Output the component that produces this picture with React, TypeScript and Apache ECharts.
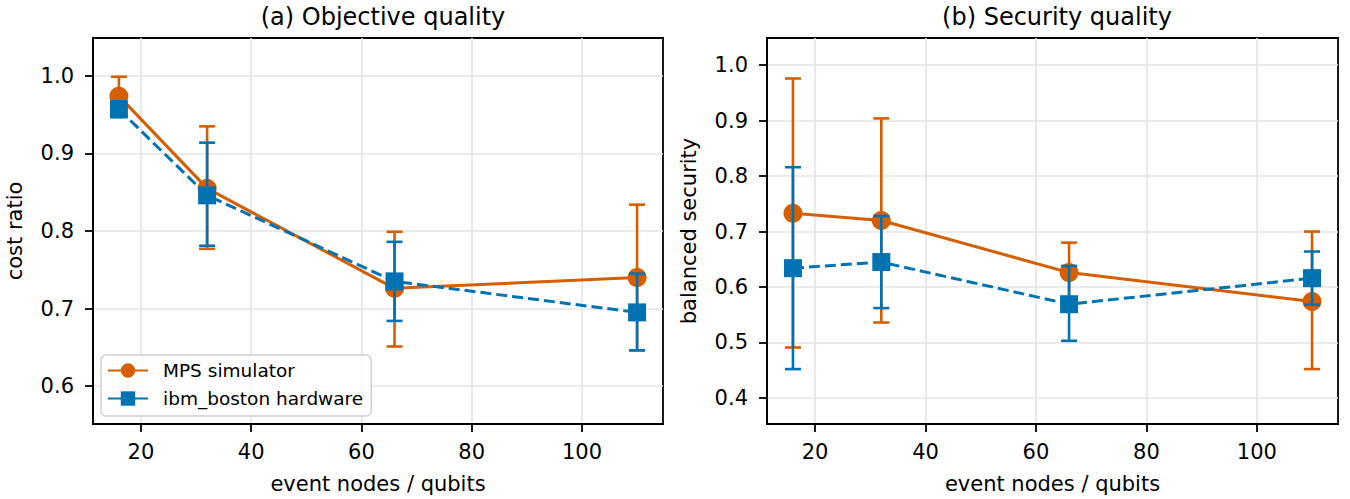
import React, { useEffect, useRef } from 'react';
import * as echarts from 'echarts';

const xValues = [16, 32, 66, 110];

const costMps = [0.974, 0.855, 0.726, 0.740];
const costMpsLow = [0.949, 0.777, 0.651, 0.646];
const costMpsHigh = [0.999, 0.935, 0.799, 0.834];
const costIbm = [0.957, 0.846, 0.735, 0.695];
const costIbmLow = [0.947, 0.781, 0.684, 0.646];
const costIbmHigh = [0.967, 0.914, 0.786, 0.745];

const secMps = [0.733, 0.720, 0.626, 0.574];
const secMpsLow = [0.491, 0.536, 0.572, 0.452];
const secMpsHigh = [0.976, 0.904, 0.680, 0.700];
const secIbm = [0.634, 0.645, 0.569, 0.616];
const secIbmLow = [0.452, 0.562, 0.503, 0.568];
const secIbmHigh = [0.816, 0.728, 0.638, 0.664];

const xTicks = [20, 40, 60, 80, 100];
const costTicks = [0.6, 0.7, 0.8, 0.9, 1.0];
const secTicks = [0.4, 0.5, 0.6, 0.7, 0.8, 0.9, 1.0];

const titles = ['(a) Objective quality', '(b) Security quality'];
const xName = 'event nodes / qubits';
const yNames = ['cost ratio', 'balanced security'];
const seriesNames = ['MPS simulator', 'ibm_boston hardware'];

const ORANGE = '#d55e00';
const BLUE = '#0072b2';
const FONT = 'DejaVu Sans';
const TICK_FS = 21;
const NAME_FS = 21;

const errRender = (color: string) => (params: any, api: any) => {
  const x = api.value(0);
  const lo = api.coord([x, api.value(1)]);
  const hi = api.coord([x, api.value(2)]);
  const cap = 8;
  const style = { stroke: color, lineWidth: 2.6, fill: null };
  return {
    type: 'group',
    children: [
      { type: 'line', shape: { x1: lo[0], y1: lo[1], x2: hi[0], y2: hi[1] }, style },
      { type: 'line', shape: { x1: lo[0] - cap, y1: lo[1], x2: lo[0] + cap, y2: lo[1] }, style },
      { type: 'line', shape: { x1: hi[0] - cap, y1: hi[1], x2: hi[0] + cap, y2: hi[1] }, style },
    ],
  };
};

function makeXAxis(gridIndex: number) {
  return {
    type: 'value',
    gridIndex,
    min: 11.3,
    max: 114.7,
    splitNumber: 5,
    name: xName,
    nameLocation: 'middle',
    nameGap: 49,
    nameTextStyle: { fontFamily: FONT, fontSize: NAME_FS, color: '#000' },
    axisLine: { show: true, lineStyle: { color: '#000', width: 1.8 } },
    axisTick: { show: true, length: 8, customValues: xTicks, lineStyle: { color: '#000', width: 1.8 } },
    axisLabel: {
      customValues: xTicks,
      margin: 17,
      fontFamily: FONT,
      fontSize: TICK_FS,
      color: '#000',
    },
    splitLine: { show: true, customValues: xTicks, lineStyle: { color: '#e4e4e4', width: 1.6 } },
  };
}

function makeYAxis(gridIndex: number, min: number, max: number, ticks: number[], name: string, splitNumber: number) {
  return {
    type: 'value',
    gridIndex,
    min,
    max,
    splitNumber,
    name,
    nameLocation: 'middle',
    nameGap: 68,
    nameTextStyle: { fontFamily: FONT, fontSize: NAME_FS, color: '#000' },
    axisLine: { show: true, lineStyle: { color: '#000', width: 1.8 } },
    axisTick: { show: true, length: 8, customValues: ticks, lineStyle: { color: '#000', width: 1.8 } },
    axisLabel: {
      customValues: ticks,
      margin: 19,
      fontFamily: FONT,
      fontSize: TICK_FS,
      color: '#000',
      formatter: (v: number) => v.toFixed(1),
    },
    splitLine: { show: true, customValues: ticks, lineStyle: { color: '#e4e4e4', width: 1.6 } },
  };
}

function pairs(ys: number[]) {
  return xValues.map((x, i) => [x, ys[i]]);
}
function errs(lo: number[], hi: number[]) {
  return xValues.map((x, i) => [x, lo[i], hi[i]]);
}

function lineSeries(name: string, idx: number, ys: number[], color: string, dashed: boolean, z: number) {
  return {
    type: 'line',
    name,
    xAxisIndex: idx,
    yAxisIndex: idx,
    data: pairs(ys),
    symbol: dashed ? 'rect' : 'circle',
    symbolSize: dashed ? 18 : 19,
    z,
    itemStyle: { color, borderWidth: 0 },
    lineStyle: { color, width: 3, type: dashed ? [11, 5] : 'solid' },
  };
}

function errSeries(name: string, idx: number, lo: number[], hi: number[], color: string, z: number) {
  return {
    type: 'custom',
    name,
    xAxisIndex: idx,
    yAxisIndex: idx,
    data: errs(lo, hi),
    encode: { x: 0, y: [1, 2] },
    renderItem: errRender(color),
    z,
  };
}

export default function App() {
  const ref = useRef<HTMLDivElement>(null);
  useEffect(() => {
    document.body.style.margin = '0';
    if (!ref.current) return;
    const chart = echarts.init(ref.current, undefined, { renderer: 'svg' });
    chart.setOption({
      animation: false,
      backgroundColor: '#fff',
      title: [
        { text: titles[0], left: 378, top: 0, textAlign: 'center', textStyle: { fontFamily: FONT, fontSize: 24, fontWeight: 'normal', color: '#000' } },
        { text: titles[1], left: 1052, top: 0, textAlign: 'center', textStyle: { fontFamily: FONT, fontSize: 24, fontWeight: 'normal', color: '#000' } },
      ],
      grid: [
        { left: 93, top: 38, width: 570, height: 386, show: true, borderColor: '#000', borderWidth: 1.8, backgroundColor: 'transparent' },
        { left: 767, top: 38, width: 571, height: 386, show: true, borderColor: '#000', borderWidth: 1.8, backgroundColor: 'transparent' },
      ],
      xAxis: [makeXAxis(0), makeXAxis(1)],
      yAxis: [
        makeYAxis(0, 0.551, 1.049, costTicks, yNames[0], 5),
        makeYAxis(1, 0.353, 1.049, secTicks, yNames[1], 7),
      ],
      legend: {
        left: 101,
        top: 355,
        orient: 'vertical',
        data: [
          { name: seriesNames[0], lineStyle: { type: 'solid' } },
          { name: seriesNames[1], lineStyle: { type: 'solid' } },
        ],
        itemWidth: 40,
        itemHeight: 18,
        itemGap: 9,
        padding: [6, 8, 8, 6],
        borderColor: '#d0d0d0',
        borderWidth: 1.5,
        borderRadius: 5,
        backgroundColor: 'rgba(255,255,255,0.8)',
        textStyle: { fontFamily: FONT, fontSize: 18.5, color: '#000', padding: [0, 0, 0, 10] },
      },
      series: [
        errSeries('mps-err-a', 0, costMpsLow, costMpsHigh, ORANGE, 2),
        lineSeries(seriesNames[0], 0, costMps, ORANGE, false, 3),
        errSeries('ibm-err-a', 0, costIbmLow, costIbmHigh, BLUE, 4),
        lineSeries(seriesNames[1], 0, costIbm, BLUE, true, 5),
        errSeries('mps-err-b', 1, secMpsLow, secMpsHigh, ORANGE, 2),
        lineSeries(seriesNames[0], 1, secMps, ORANGE, false, 3),
        errSeries('ibm-err-b', 1, secIbmLow, secIbmHigh, BLUE, 4),
        lineSeries(seriesNames[1], 1, secIbm, BLUE, true, 5),
      ],
    });
    return () => chart.dispose();
  }, []);
  return <div ref={ref} style={{ width: 1350, height: 499 }} />;
}
